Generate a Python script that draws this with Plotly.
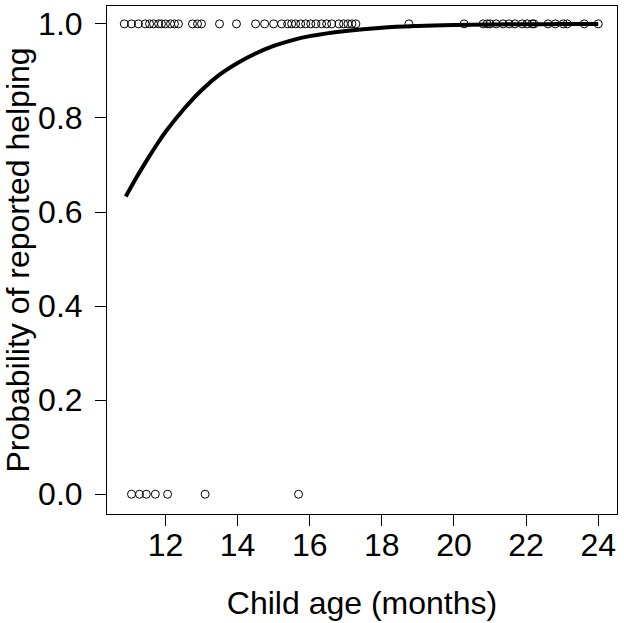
import plotly.graph_objects as go

# observed helping (1) by child age in months
age_yes = [10.86, 11.06, 11.25, 11.44, 11.56, 11.67, 11.81, 11.89, 12.0, 12.14,
           12.25, 12.36, 12.75, 12.89, 13.0, 13.5, 13.97, 14.5, 14.75, 15.0,
           15.22, 15.39, 15.5, 15.61, 15.75, 15.89, 16.03, 16.17, 16.33, 16.47,
           16.61, 16.81, 16.94, 17.06, 17.17, 17.28, 18.75, 20.28, 20.81, 20.92,
           21.0, 21.17, 21.36, 21.53, 21.69, 21.89, 22.03, 22.17, 22.22, 22.61,
           22.81, 23.03, 23.14, 23.61, 24.0]
# observed no helping (0)
age_no = [11.06, 11.28, 11.47, 11.72, 12.06, 13.1, 15.69]

# fitted logistic curve
fit_age = [10.9, 11.2, 11.5, 11.75, 12.0, 12.5, 13.0, 13.5, 14.0, 14.5, 15.0,
           15.5, 16.0, 17.0, 18.0, 19.0, 20.0, 21.0, 22.0, 23.0, 24.0]
fit_prob = [0.633, 0.674, 0.712, 0.742, 0.770, 0.818, 0.859, 0.892, 0.917, 0.937,
            0.953, 0.965, 0.974, 0.985, 0.992, 0.9955, 0.9975, 0.9986, 0.9992, 0.9996, 0.9998]

x_ticks = [12, 14, 16, 18, 20, 22, 24]
y_ticks = [0.0, 0.2, 0.4, 0.6, 0.8, 1.0]

FONT = "Arial, Liberation Sans, sans-serif"

fig = go.Figure()
fig.add_trace(go.Scatter(
    x=age_yes, y=[1] * len(age_yes), mode="markers",
    marker=dict(symbol="circle-open", size=8, color="black", line=dict(width=1)),
))
fig.add_trace(go.Scatter(
    x=age_no, y=[0] * len(age_no), mode="markers",
    marker=dict(symbol="circle-open", size=8, color="black", line=dict(width=1)),
))
fig.add_trace(go.Scatter(
    x=fit_age, y=fit_prob, mode="lines",
    line=dict(color="black", width=4, shape="spline"),
))

axis_common = dict(
    showgrid=False, zeroline=False, showline=True, mirror=True,
    linecolor="black", linewidth=1, ticks="outside", ticklen=11,
    tickcolor="black", automargin=False,
    tickfont=dict(size=32, color="black", family=FONT),
)
fig.update_layout(
    width=624, height=623,
    margin=dict(l=107, r=7, t=6, b=109),
    paper_bgcolor="white", plot_bgcolor="white",
    showlegend=False,
    font=dict(family=FONT, color="black"),
    xaxis=dict(
        range=[10.38, 24.52], tickvals=x_ticks,
        ticklabelstandoff=-8,
        title=dict(text="Child age (months)", font=dict(size=32), standoff=29),
        **axis_common,
    ),
    yaxis=dict(
        range=[-0.042, 1.038], tickvals=y_ticks, tickformat=".1f",
        ticklabelstandoff=6,
        title=dict(text="Probability of reported helping", font=dict(size=32), standoff=8),
        **axis_common,
    ),
)

fig.write_html("out.html", config={"displayModeBar": False},
               post_script="document.body.style.margin='0';")
